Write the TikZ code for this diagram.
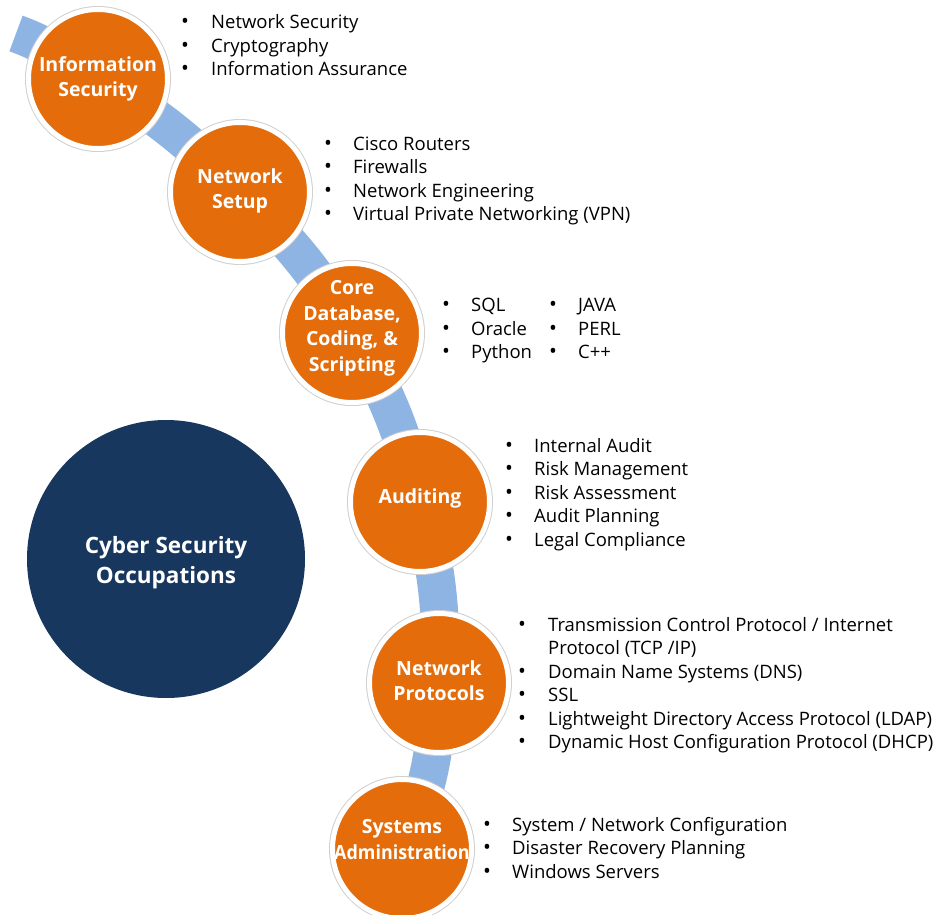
\documentclass[tikz,border=0pt]{standalone}
\usepackage{fontspec}
\setmainfont{Open Sans}
\usetikzlibrary{backgrounds}
\definecolor{orng}{HTML}{E46C0A}
\definecolor{navy}{HTML}{17375E}
\definecolor{bandblue}{HTML}{8EB4E3}
\definecolor{ringgray}{HTML}{D0D0D0}
\tikzset{
  topic/.style={circle, fill=orng, draw=white, line width=5pt, minimum size=139pt, inner sep=0pt,
    preaction={draw=ringgray, line width=7pt}},
  topiclabel/.style={inner sep=0pt, align=center, text=white,
    font=\fontsize{19.5}{25.5}\selectfont\bfseries},
  hub/.style={circle, fill=navy, minimum size=278pt, inner sep=0pt},
  hublabel/.style={inner sep=0pt, align=center, text=white,
    font=\fontsize{22.5}{30}\selectfont\bfseries},
  band/.style={draw=bandblue, line width=38pt, line cap=butt},
  btext/.style={anchor=base west, inner sep=0pt, font=\fontsize{18.5}{23.5}\selectfont},
  bdot/.style={anchor=base, inner sep=0pt, font=\fontsize{21}{23.5}\selectfont},
}
\newcommand\bulline[5]{\node[bdot] (#1d) at (#2,-#4) {•};\node[btext] (#1) at (#3,-#4) {#5};}
\begin{document}
\begin{tikzpicture}[x=1pt,y=1pt]
\useasboundingbox (0,0) rectangle (940,-915);
% hub
\node[hub] (hub) at (166,-559) {};
\node[hublabel] (hubt) at (166,-562.5) {Cyber Security\\Occupations};
% topics
\node[topic] (c1) at (98,-79) {};
\node[topic] (c2) at (240,-192) {};
\node[topic] (c3) at (352,-333) {};
\node[topic] (c4) at (420,-502) {};
\node[topic] (c5) at (439,-683) {};
\node[topic] (c6) at (402,-849) {};
\node[topiclabel] (t1) at (98,-79) {Information\\Security};
\node[topiclabel] (t2) at (240,-191) {Network\\Setup};
\node[topiclabel] (t3) at (352,-328.5) {Core\\Database,\\Coding, \&\\Scripting};
\node[topiclabel] (t4) at (420,-498) {Auditing};
\node[topiclabel] (t5) at (439,-680.5) {Network\\Protocols};
\node[topiclabel] (t6) at (402,-839.5) {Systems\\\scalebox{0.92}[1]{Administration}};
% band
\coordinate (bs) at (16,-33.5);
\begin{pgfonlayer}{background}
\draw[band] (bs) to[out=-20,in=148] (c1.center) to[out=-32,in=135] (c2.center)
  to[out=-45,in=120] (c3.center) to[out=-60,in=104] (c4.center)
  to[out=-76,in=87] (c5.center) to[out=-93,in=65] (c6.center);
\end{pgfonlayer}
% list 1
\bulline{a1}{185}{211}{29}{Network Security}
\bulline{a2}{185}{211}{52.5}{Cryptography}
\bulline{a3}{185}{211}{76}{Information Assurance}
% list 2
\bulline{b1}{328}{353}{150}{Cisco Routers}
\bulline{b2}{328}{353}{173.5}{Firewalls}
\bulline{b3}{328}{353}{197}{Network Engineering}
\bulline{b4}{328}{353}{220.5}{Virtual Private Networking (VPN)}
% list 3
\bulline{d1}{446}{471}{311.5}{SQL}
\bulline{d2}{446}{471}{335}{Oracle}
\bulline{d3}{446}{471}{358.5}{Python}
\bulline{e1}{553}{578}{311.5}{JAVA}
\bulline{e2}{553}{578}{335}{PERL}
\bulline{e3}{553}{578}{358.5}{C++}
% list 4
\bulline{f1}{509}{534}{452}{Internal Audit}
\bulline{f2}{509}{534}{475.5}{Risk Management}
\bulline{f3}{509}{534}{499}{Risk Assessment}
\bulline{f4}{509}{534}{522.5}{Audit Planning}
\bulline{f5}{509}{534}{546}{Legal Compliance}
% list 5
\bulline{g1}{522}{548}{631}{Transmission Control Protocol / Internet}
\node[btext] (g1b) at (548,-654.5) {Protocol (TCP /IP)};
\bulline{g2}{522}{548}{678}{Domain Name Systems (DNS)}
\bulline{g3}{522}{548}{701.5}{SSL}
\bulline{g4}{522}{548}{725}{Lightweight Directory Access Protocol (LDAP)}
\bulline{g5}{522}{548}{748.5}{Dynamic Host Configuration Protocol (DHCP)}
% list 6
\bulline{h1}{487}{512}{831}{System / Network Configuration}
\bulline{h2}{487}{512}{854.5}{Disaster Recovery Planning}
\bulline{h3}{487}{512}{878}{Windows Servers}
\end{tikzpicture}
\end{document}
